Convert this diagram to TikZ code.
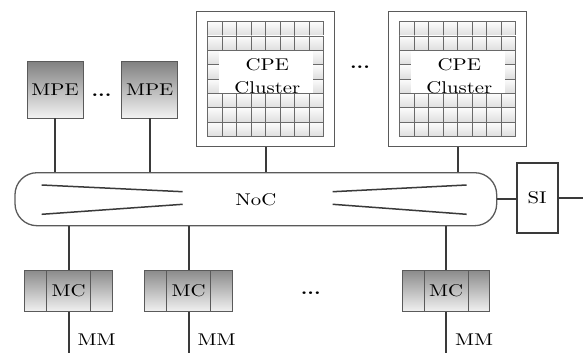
\documentclass[tikz,border=0pt]{standalone}
\usepackage{fontspec}
\setmainfont{lmroman10-regular.otf}[FakeStretch=1.22, BoldFont=lmroman10-bold.otf]
\definecolor{wirec}{RGB}{58,58,58}
\definecolor{framec}{RGB}{90,90,90}
\definecolor{mpetop}{RGB}{128,128,128}
\definecolor{mpebot}{RGB}{242,242,242}
\definecolor{mctop}{RGB}{140,140,140}
\definecolor{mcbot}{RGB}{240,240,240}
\definecolor{celltop}{RGB}{252,252,252}
\definecolor{cellbot}{RGB}{222,222,222}
\definecolor{gridc}{RGB}{105,105,105}
\tikzset{
  lbl/.style={font=\fontsize{17}{22.5}\selectfont, text=black},
  ellipsis/.style={font=\fontsize{17}{22.5}\selectfont\bfseries, text=black, anchor=base},
  wire/.style={draw=wirec, line width=2pt},
  mpebox/.style={lbl, draw=framec, line width=0.9pt, top color=mpetop, bottom color=mpebot,
    minimum width=56pt, minimum height=57pt, inner sep=0pt},
  mcbox/.style={lbl, draw=framec, line width=0.9pt, top color=mctop, bottom color=mcbot,
    minimum width=87.5pt, minimum height=40.5pt, inner sep=0pt},
  clusterbox/.style={draw=framec, line width=1.2pt, fill=white,
    minimum width=138pt, minimum height=135pt, inner sep=0pt},
  nocbox/.style={lbl, draw=framec, line width=1.3pt, rounded corners=22pt,
    minimum width=481.7pt, minimum height=53pt, inner sep=0pt},
  sibox/.style={lbl, draw=wirec, line width=1.8pt, minimum width=41pt, minimum height=70.6pt, inner sep=0pt},
  cellbox/.style={draw=gridc, line width=0.7pt, top color=celltop, bottom color=cellbot},
  taper/.style={draw=wirec, line width=1.5pt},
  divider/.style={draw=framec, line width=0.8pt},
}
\begin{document}
\begin{tikzpicture}[x=1pt, y=-1pt]
  \useasboundingbox (0,0) rectangle (588,353);

  % network on chip
  \node[nocbox] (noc) at (255.85,199.2) {NoC};
  \draw[taper] (41.7,185) -- (182.7,191.7);
  \draw[taper] (41.7,214.3) -- (182.7,204.3);
  \draw[taper] (332.7,191.7) -- (466.7,185);
  \draw[taper] (332.7,204.3) -- (466.7,214.3);

  % management processing elements
  \node[mpebox] (mpe1) at (55,89.5) {MPE};
  \node[mpebox] (mpe2) at (149.7,89.5) {MPE};
  \node[ellipsis] (dotsa) at (101.5,96.5) {...};
  \draw[wire] (mpe1.south) -- (mpe1.south |- noc.north);
  \draw[wire] (mpe2.south) -- (mpe2.south |- noc.north);

  % computing processing element clusters
  \foreach \cx/\nm in {265.8/cpea, 457.8/cpeb} {
    \node[clusterbox] (\nm) at (\cx,79) {};
    \foreach \c in {0,...,7} {
      \foreach \r in {0,...,7} {
        \draw[cellbox] ({\cx-58+\c*14.5},{21.5+\r*14.375}) rectangle ++(14.5,14.375);
      }
    }
    \fill[white] ({\cx-47},51.2) rectangle ({\cx+47},92.9);
    \node[lbl, align=center] at ({\cx+1.5},76) {CPE\\Cluster};
    \draw[wire] (\nm.south) -- (\nm.south |- noc.north);
  }
  \node[ellipsis] (dotsb) at (360,68.5) {...};

  % memory controllers and memories
  \foreach \mx/\nm in {68.65/mca, 188.65/mcb, 446.15/mcc} {
    \node[mcbox] (\nm) at (\mx,290.85) {MC};
    \draw[divider] ([xshift=22pt]\nm.north west) -- ([xshift=22pt]\nm.south west);
    \draw[divider] ([xshift=-22pt]\nm.north east) -- ([xshift=-22pt]\nm.south east);
    \draw[wire] (\nm.north |- noc.south) -- (\nm.north);
    \coordinate (\nm end) at (\mx,353);
    \draw[wire] (\nm.south) -- (\nm end);
    \node[lbl, anchor=base west] at ({\mx+5.5},345) {MM};
  }
  \node[ellipsis] (dotsc) at (310.7,294) {...};

  % system interface
  \node[sibox] (si) at (537.2,198) {SI};
  \coordinate (siout) at (583.3,198);
  \draw[wire] (noc.east) -- (noc.east -| si.west);
  \draw[wire] (si.east) -- (siout);
\end{tikzpicture}
\end{document}
